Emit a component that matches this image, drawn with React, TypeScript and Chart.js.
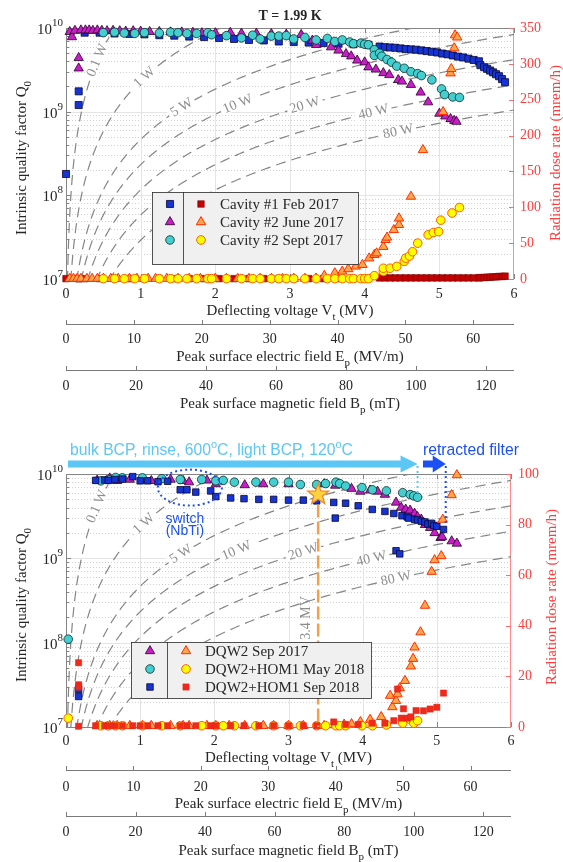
import React, { useEffect, useRef } from 'react';
import { Chart, registerables } from 'chart.js';

Chart.register(...registerables);

const SERIF = '"Liberation Serif", "Times New Roman", Times, serif';
const SANS = '"Liberation Sans", Arial, Helvetica, sans-serif';
const INK = '#262626';
const RED = '#ff3c3c';
const CANVAS_W = 563;

// ---------------- axes ----------------
const V_TICKS = [0, 1, 2, 3, 4, 5, 6];
const EP_TICKS = [0, 10, 20, 30, 40, 50, 60];
const BP_TICKS = [0, 20, 40, 60, 80, 100, 120];
const Q_EXPONENTS = [7, 8, 9, 10];
const V_MAX = 6;
const EP_MAX = 66;
const BP_MAX = 128;
const Q_MIN = 1e7;
const Q_MAX = 1e10;
const TOP_DOSE_TICKS = [0, 50, 100, 150, 200, 250, 300, 350];
const BOTTOM_DOSE_TICKS = [0, 20, 40, 60, 80, 100];

// iso-power reference lines
const POWER_W = [0.1, 1, 5, 10, 20, 40, 80];
const POWER_LABELS = ['0.1 W', '1 W', '5 W', '10 W', '20 W', '40 W', '80 W'];
const POWER_LABEL_V = [0.42, 1.05, 1.55, 2.3, 3.2, 4.12, 4.45];
const R_T_OVER_Q = 430; // ohm

// ---------------- top panel data (T = 1.99 K) ----------------
const TOP_LEGEND = ['Cavity #1 Feb 2017', 'Cavity #2 June 2017', 'Cavity #2 Sept 2017'];

const C1_V = [0.0, 0.17, 0.17, 0.25, 0.45, 0.65, 0.85, 1.05, 1.25, 1.45, 1.65, 1.85, 2.05, 2.25, 2.45, 2.65, 2.85, 3.05, 3.25, 3.45, 3.65, 3.85, 4.05, 4.2, 4.27, 4.34, 4.41, 4.48, 4.55, 4.62, 4.69, 4.76, 4.83, 4.9, 4.97, 5.04, 5.11, 5.18, 5.25, 5.32, 5.39, 5.46, 5.53, 5.55, 5.6, 5.64, 5.68, 5.72, 5.76, 5.8, 5.84, 5.88];
const C1_Q = [1.8e8, 1.75e9, 1.2e9, 8.8e9, 8.8e9, 8.6e9, 8.5e9, 8.4e9, 8.2e9, 8.1e9, 7.9e9, 7.8e9, 7.6e9, 7.4e9, 7.2e9, 7.1e9, 6.9e9, 6.8e9, 6.7e9, 6.6e9, 6.5e9, 6.4e9, 6.3e9, 6.0e9, 5.9e9, 5.85e9, 5.8e9, 5.7e9, 5.6e9, 5.55e9, 5.5e9, 5.4e9, 5.3e9, 5.2e9, 5.1e9, 4.95e9, 4.85e9, 4.7e9, 4.55e9, 4.45e9, 4.3e9, 4.15e9, 4.0e9, 3.6e9, 3.4e9, 3.25e9, 3.1e9, 2.95e9, 2.8e9, 2.65e9, 2.45e9, 2.25e9];
const C1_DOSE = [0.5, 0.5, 0.5, 0.5, 0.5, 0.5, 0.5, 0.5, 0.5, 0.5, 0.5, 0.5, 0.5, 0.5, 0.5, 0.5, 0.5, 0.5, 0.5, 0.5, 0.5, 0.5, 0.5, 1.5, 1.5, 1.5, 1.5, 1.5, 1.5, 1.5, 1.5, 1.5, 1.5, 1.5, 1.5, 1.5, 1.5, 1.5, 1.5, 1.5, 1.5, 1.5, 1.5, 2, 2, 2.5, 2.5, 3, 3, 3.5, 3.5, 4];

const C2_V = [0.05, 0.08, 0.12, 0.17, 0.17, 0.2, 0.26, 0.31, 0.36, 0.42, 0.48, 0.55, 0.63, 0.72, 0.8, 0.9, 1.0, 1.12, 1.25, 1.4, 1.55, 1.7, 1.82, 2.0, 2.2, 2.35, 2.55, 2.75, 2.95, 3.15, 3.3, 3.35, 3.55, 3.65, 3.75, 3.82, 3.9, 4.0, 4.05, 4.15, 4.25, 4.33, 4.45, 4.5, 4.62, 4.75, 4.85, 5.0, 5.08, 5.15, 5.2, 5.23];
const C2_Q = [9.0e9, 7.8e9, 9.3e9, 4.4e9, 3.3e9, 9.4e9, 9.4e9, 9.4e9, 9.3e9, 9.4e9, 9.3e9, 9.2e9, 9.3e9, 9.2e9, 9.1e9, 9.2e9, 9.1e9, 9.0e9, 9.0e9, 8.9e9, 8.9e9, 8.8e9, 8.7e9, 8.7e9, 8.8e9, 8.6e9, 8.6e9, 8.5e9, 8.4e9, 8.3e9, 7.1e9, 6.3e9, 5.9e9, 5.4e9, 4.9e9, 4.6e9, 4.1e9, 3.9e9, 3.4e9, 3.2e9, 2.9e9, 2.75e9, 2.4e9, 2.3e9, 2.1e9, 1.7e9, 1.3e9, 9.5e8, 8.8e8, 8.2e8, 7.8e8, 7.6e8];
const C2_DOSE_V = [0.05, 0.1, 0.15, 0.2, 0.28, 0.35, 0.42, 0.5, 0.6, 0.7, 0.85, 0.95, 1.1, 1.2, 1.35, 1.5, 1.65, 1.8, 2.0, 2.15, 2.3, 2.45, 2.6, 2.75, 2.9, 3.05, 3.2, 3.35, 3.46, 3.6, 3.7, 3.78, 3.88, 3.97, 4.06, 4.13, 4.16, 4.25, 4.28, 4.3, 4.39, 4.46, 4.46, 4.62, 4.78, 5.05, 5.15, 5.16, 5.2, 5.21, 5.24];
const C2_DOSE = [0.5, 0.5, 0.5, 0.5, 0.5, 0.5, 0.5, 0.5, 0.5, 0.5, 0.5, 0.5, 0.5, 0.5, 0.5, 0.5, 0.5, 0.5, 0.5, 0.5, 0.5, 0.5, 0.5, 0.5, 0.5, 0.5, 0.5, 0.8, 4.6, 8.3, 10.6, 13.9, 17.6, 19.9, 29, 33.8, 36, 45, 54.6, 58, 68.5, 75.5, 84.7, 115, 180, 233, 287, 293, 322, 340, 337];

const C3_V = [0.5, 0.65, 0.78, 0.92, 1.05, 1.25, 1.4, 1.5, 1.62, 1.75, 1.9, 1.95, 2.15, 2.35, 2.5, 2.6, 2.75, 2.85, 2.95, 3.05, 3.2, 3.35, 3.5, 3.6, 3.7, 3.8, 3.85, 3.95, 4.0, 4.05, 4.13, 4.13, 4.2, 4.23, 4.3, 4.36, 4.43, 4.53, 4.62, 4.71, 4.76, 4.9, 5.03, 5.07, 5.18, 5.27];
const C3_Q = [8.8e9, 8.9e9, 8.7e9, 8.6e9, 8.8e9, 8.7e9, 8.9e9, 8.8e9, 8.6e9, 8.6e9, 8.8e9, 8.3e9, 8.1e9, 7.6e9, 8.2e9, 7.4e9, 8.0e9, 8.0e9, 8.1e9, 7.4e9, 7.7e9, 7.2e9, 7.5e9, 6.9e9, 7.2e9, 6.8e9, 6.5e9, 6.6e9, 6.4e9, 6.3e9, 5.5e9, 4.7e9, 5.0e9, 4.6e9, 4.2e9, 3.9e9, 3.5e9, 3.3e9, 3.0e9, 2.85e9, 2.7e9, 2.4e9, 1.87e9, 1.6e9, 1.5e9, 1.48e9];
const C3_DOSE_V = [0.5, 0.65, 0.78, 0.92, 1.05, 1.25, 1.4, 1.5, 1.62, 1.75, 1.9, 1.95, 2.15, 2.35, 2.5, 2.6, 2.75, 2.85, 2.95, 3.05, 3.2, 3.35, 3.5, 3.6, 3.7, 3.8, 3.85, 3.95, 4.0, 4.05, 4.13, 4.25, 4.25, 4.34, 4.43, 4.53, 4.55, 4.6, 4.64, 4.71, 4.85, 4.92, 4.99, 5.02, 5.17, 5.27];
const C3_DOSE = [0.5, 0.5, 0.5, 0.5, 0.5, 0.5, 0.5, 0.5, 0.5, 0.5, 0.5, 0.5, 0.5, 0.5, 0.5, 0.5, 0.5, 0.5, 0.5, 0.5, 0.5, 0.5, 0.5, 0.5, 0.5, 0.5, 0.5, 0.5, 0.5, 0.5, 4.6, 10.6, 15, 15, 17.6, 24.5, 29, 32, 38, 50, 61.6, 64.8, 66, 82, 92, 99.6];

// ---------------- bottom panel data ----------------
const BOTTOM_LEGEND = ['DQW2 Sep 2017', 'DQW2+HOM1 May 2018', 'DQW2+HOM1 Sep 2018'];

const B1_V = [0.42, 0.59, 0.69, 0.86, 1.03, 1.15, 1.41, 1.58, 1.66, 1.9, 2.02, 2.41, 2.66, 3.0, 3.48, 3.63, 3.85, 3.97, 4.1, 4.2, 4.3, 4.45, 4.52, 4.58, 4.64, 4.7, 4.74, 4.79, 4.84, 4.91, 4.97, 5.05, 5.07, 5.2, 5.27];
const B1_Q = [8.4e9, 8.9e9, 8.3e9, 8.6e9, 8.5e9, 8.3e9, 8.6e9, 8.3e9, 8.0e9, 8.4e9, 7.6e9, 7.4e9, 7.6e9, 7.6e9, 7.6e9, 7.3e9, 6.7e9, 6.2e9, 6.4e9, 6.2e9, 5.7e9, 4.6e9, 4.0e9, 3.8e9, 3.7e9, 3.4e9, 3.1e9, 2.9e9, 2.5e9, 2.3e9, 2.0e9, 1.75e9, 1.8e9, 1.6e9, 1.5e9];
const B1_DOSE_V = [0.42, 0.59, 0.69, 0.86, 1.03, 1.15, 1.41, 1.58, 1.66, 1.9, 2.02, 2.2, 2.41, 2.66, 2.8, 3.0, 3.2, 3.48, 3.63, 3.75, 3.85, 3.97, 4.1, 4.25, 4.37, 4.4, 4.45, 4.47, 4.5, 4.57, 4.65, 4.68, 4.7, 4.78, 4.84, 4.93, 4.97, 5.06, 5.08, 5.2, 5.27];
const B1_DOSE = [0.5, 0.5, 0.5, 0.5, 0.5, 0.5, 0.5, 0.5, 0.5, 0.5, 0.5, 0.5, 0.5, 0.5, 0.5, 0.5, 0.5, 0.5, 0.8, 1, 1.2, 2, 2.9, 4, 12.4, 7.9, 10.4, 13, 15.4, 18.3, 24, 27, 31.5, 37.5, 48, 61.4, 66, 67.6, 82, 91.7, 99.6];

const B2_V = [0.03, 0.47, 0.57, 0.67, 0.76, 1.03, 1.29, 1.54, 1.83, 2.02, 2.12, 2.27, 2.56, 2.8, 3.0, 3.16, 3.38, 3.5, 3.64, 3.69, 3.77, 3.99, 4.13, 4.32, 4.54, 4.64, 4.69, 4.74];
const B2_Q = [1.1e8, 8.3e9, 8.6e9, 9.1e9, 9.0e9, 9.0e9, 8.8e9, 8.6e9, 8.6e9, 8.3e9, 8.4e9, 8.0e9, 8.0e9, 8.0e9, 8.0e9, 7.5e9, 7.5e9, 7.7e9, 8.0e9, 7.7e9, 7.2e9, 6.9e9, 6.5e9, 6.3e9, 6.0e9, 5.7e9, 5.5e9, 5.3e9];
const B2_DOSE = [3.5, 0.5, 0.5, 0.5, 0.5, 0.5, 0.5, 0.5, 0.5, 0.5, 0.5, 0.5, 0.5, 0.5, 0.5, 0.5, 0.5, 0.5, 0.5, 0.5, 0.5, 0.5, 0.5, 0.8, 1.5, 3, 1.5, 2.5];

const B3_V = [0.17, 0.17, 0.4, 0.52, 0.57, 0.66, 0.76, 0.9, 1.0, 1.1, 1.24, 1.37, 1.54, 1.63, 1.75, 1.95, 2.02, 2.22, 2.4, 2.6, 2.8, 3.0, 3.2, 3.38, 3.61, 3.63, 3.77, 3.94, 4.13, 4.3, 4.42, 4.45, 4.5, 4.53, 4.6, 4.62, 4.7, 4.74, 4.79, 4.84, 4.88, 4.93, 4.96, 5.0, 5.09];
const B3_Q = [2.8e7, 2.3e7, 8.4e9, 8.5e9, 8.4e9, 8.6e9, 8.7e9, 9.3e9, 8.3e9, 8.3e9, 8.1e9, 8.2e9, 6.5e9, 6.5e9, 6.1e9, 6.3e9, 5.4e9, 5.2e9, 5.1e9, 5.0e9, 5.0e9, 4.9e9, 4.9e9, 4.8e9, 4.6e9, 3.0e9, 4.5e9, 4.2e9, 3.8e9, 3.6e9, 3.4e9, 1.23e9, 1.13e9, 3.2e9, 3.1e9, 3.0e9, 2.9e9, 2.85e9, 2.75e9, 2.7e9, 2.55e9, 2.6e9, 2.45e9, 2.4e9, 2.2e9];
const B3_DOSE_V = [0.17, 0.17, 0.17, 0.17, 0.4, 0.52, 0.57, 0.66, 0.76, 0.9, 1.0, 1.1, 1.24, 1.37, 1.54, 1.63, 1.75, 1.95, 2.02, 2.22, 2.4, 2.6, 2.8, 3.0, 3.2, 3.38, 3.61, 3.77, 3.94, 4.13, 4.3, 4.42, 4.47, 4.52, 4.55, 4.6, 4.65, 4.72, 4.82, 4.91, 5.0, 5.09];
const B3_DOSE = [25.4, 16.7, 15.8, 0.3, 0.5, 0.5, 0.5, 0.5, 0.5, 0.5, 0.5, 0.5, 0.5, 0.5, 0.5, 0.5, 0.5, 0.5, 0.5, 0.5, 0.5, 0.5, 0.5, 0.5, 0.5, 0.5, 2, 1, 1, 1.5, 1.5, 2.5, 15, 3.5, 7.2, 3.5, 4, 6.5, 6.4, 7.1, 7.8, 13.4];

// annotation anchors (data units)
const PROCESS_END_V = 4.74;
const PROCESS_END_Q = 5.3e9;
const FILTER_END_V = 5.12;
const FILTER_END_Q = 2.2e9;
const SWITCH_V = 1.67;
const SWITCH_Q = 6.9e9;
const STAR_V = 3.4;
const STAR_Q = 5.7e9;

// ---------------- styles ----------------
const MK: any = {
  blueSq: { shape: 'rect', r: 5, fill: '#1634d6', stroke: '#07072e', lw: 0.8 },
  magTri: { shape: 'triangle', r: 5.4, fill: '#c81ec8', stroke: '#2a002a', lw: 0.8 },
  cyanCirc: { shape: 'circle', r: 4.3, fill: '#43cfcf', stroke: '#0d2b2b', lw: 0.8 },
  darkRedSq: { shape: 'rect', r: 4.6, fill: '#c40000', stroke: '#7a0000', lw: 0.6 },
  orangeTri: { shape: 'triangle', r: 5.4, fill: '#ffa64a', stroke: '#ff2d00', lw: 1 },
  yellowCirc: { shape: 'circle', r: 4.3, fill: '#ffff00', stroke: '#ff5a00', lw: 1 },
  redSq: { shape: 'rect', r: 4.4, fill: '#ef2a1c', stroke: '#e0200f', lw: 0.5 },
  blueSqB: { shape: 'rect', r: 4.6, fill: '#1634d6', stroke: '#07072e', lw: 0.8 },
};

const TOP_LAYOUT = {
  height: 420,
  area: { l: 66, t: 28, r: 514, b: 279 },
  vLabelY: 294, vTitleY: 311, epLineY: 324, epLabelY: 339, epTitleY: 357,
  bpLineY: 370, bpLabelY: 386, bpTitleY: 404,
  yTitle: { x: 22, y: 158 }, rTitle: { x: 556, y: 153 }, rLabelX: 520, yLabelRight: 63,
  legend: { x0: 152, y0: 192, x1: 358, y1: 264, div: 183, qx: 170, dx: 201, tx: 220, rows: [204, 222, 240] },
  title: { text: 'T = 1.99 K', x: 290, y: 16 },
};

const BOTTOM_LAYOUT = {
  height: 442,
  area: { l: 66, t: 54, r: 511, b: 307 },
  vLabelY: 321, vTitleY: 338, epLineY: 350, epLabelY: 367, epTitleY: 384,
  bpLineY: 396, bpLabelY: 412, bpTitleY: 431,
  yTitle: { x: 22, y: 185 }, rTitle: { x: 552, y: 177 }, rLabelX: 518, yLabelRight: 63,
  legend: { x0: 131, y0: 222, x1: 371, y1: 278, div: 167, qx: 150, dx: 186, tx: 205, rows: [231, 249, 267] },
  title: null,
};

// ---------------- helpers ----------------
function powerCurve(p: number) {
  const pts: any[] = [];
  const qTop = Math.min(Q_MAX * 1.05, ((V_MAX + 0.1) * 1e6) ** 2 / (R_T_OVER_Q * p));
  const lo = Math.log10(Q_MIN * 0.95);
  const hi = Math.log10(qTop);
  const n = 180;
  for (let i = 0; i <= n; i++) {
    const q = 10 ** (lo + ((hi - lo) * i) / n);
    pts.push({ x: Math.sqrt(q * R_T_OVER_Q * p) / 1e6, y: q });
  }
  return pts;
}

function markerDataset(xs: number[], ys: number[], m: any, axis: string, order: number) {
  return {
    data: xs.map((x, i) => ({ x, y: ys[i] })),
    yAxisID: axis,
    pointStyle: m.shape,
    pointRadius: m.r,
    pointBackgroundColor: m.fill,
    pointBorderColor: m.stroke,
    pointBorderWidth: m.lw,
    showLine: false,
    clip: false,
    order,
  };
}

function drawMarker(ctx: CanvasRenderingContext2D, m: any, x: number, y: number) {
  ctx.beginPath();
  if (m.shape === 'circle') {
    ctx.arc(x, y, m.r, 0, Math.PI * 2);
  } else if (m.shape === 'rect') {
    const s = m.r * Math.SQRT1_2;
    ctx.rect(x - s, y - s, 2 * s, 2 * s);
  } else {
    const r = m.r;
    let a = 0;
    ctx.moveTo(x + Math.sin(a) * r, y - Math.cos(a) * r);
    a += (2 * Math.PI) / 3;
    ctx.lineTo(x + Math.sin(a) * r, y - Math.cos(a) * r);
    a += (2 * Math.PI) / 3;
    ctx.lineTo(x + Math.sin(a) * r, y - Math.cos(a) * r);
    ctx.closePath();
  }
  ctx.fillStyle = m.fill;
  ctx.fill();
  ctx.lineWidth = m.lw;
  ctx.strokeStyle = m.stroke;
  ctx.stroke();
}

function drawRich(ctx: CanvasRenderingContext2D, parts: any[], x: number, y: number, size: number, align: string, family = SERIF, color = INK) {
  const small = Math.round(size * 0.72);
  let total = 0;
  const widths = parts.map((p) => {
    ctx.font = `${p.sub || p.sup ? small : size}px ${family}`;
    const w = ctx.measureText(p.t).width;
    total += w;
    return w;
  });
  let cx = align === 'center' ? x - total / 2 : align === 'right' ? x - total : x;
  ctx.textBaseline = 'middle';
  ctx.textAlign = 'left';
  ctx.fillStyle = color;
  parts.forEach((p, i) => {
    ctx.font = `${p.sub || p.sup ? small : size}px ${family}`;
    const dy = p.sub ? size * 0.38 : p.sup ? -size * 0.38 : 0;
    ctx.fillText(p.t, cx, y + dy);
    cx += widths[i];
  });
}

function hline(ctx: CanvasRenderingContext2D, x0: number, x1: number, y: number) {
  ctx.beginPath();
  ctx.moveTo(x0, y);
  ctx.lineTo(x1, y);
  ctx.stroke();
}
function vline(ctx: CanvasRenderingContext2D, x: number, y0: number, y1: number) {
  ctx.beginPath();
  ctx.moveTo(x, y0);
  ctx.lineTo(x, y1);
  ctx.stroke();
}

function drawGridAndBox(chart: any) {
  const { ctx, chartArea: a, scales } = chart;
  const xs = scales.x;
  const ys = scales.y;
  const y2 = scales.y2;
  ctx.save();
  ctx.lineWidth = 1;
  ctx.strokeStyle = '#d0d0d0';
  ctx.setLineDash([1, 2]);
  for (const e of [7, 8, 9]) {
    for (let m = 2; m <= 9; m++) {
      const y = Math.round(ys.getPixelForValue(m * 10 ** e)) + 0.5;
      hline(ctx, a.left, a.right, y);
    }
  }
  ctx.setLineDash([]);
  ctx.strokeStyle = '#e4e4e4';
  for (const e of [8, 9]) {
    const y = Math.round(ys.getPixelForValue(10 ** e)) + 0.5;
    hline(ctx, a.left, a.right, y);
  }
  V_TICKS.slice(1, -1).forEach((v) => {
    const x = Math.round(xs.getPixelForValue(v)) + 0.5;
    vline(ctx, x, a.top, a.bottom);
  });
  ctx.strokeStyle = '#858585';
  hline(ctx, a.left, a.right, Math.round(a.top) + 0.5);
  hline(ctx, a.left, a.right, Math.round(a.bottom) + 0.5);
  vline(ctx, Math.round(a.left) + 0.5, a.top, a.bottom + 0.5);
  V_TICKS.forEach((v) => {
    const x = Math.round(xs.getPixelForValue(v)) + 0.5;
    vline(ctx, x, a.bottom, a.bottom - 5);
    vline(ctx, x, a.top, a.top + 5);
  });
  for (const e of [7, 8, 9]) {
    for (let m = 1; m <= 9; m++) {
      const y = Math.round(ys.getPixelForValue(m * 10 ** e)) + 0.5;
      hline(ctx, a.left, a.left + (m === 1 ? 5 : 3), y);
    }
  }
  hline(ctx, a.left, a.left + 5, Math.round(ys.getPixelForValue(1e10)) + 0.5);
  ctx.strokeStyle = '#ff8a8a';
  vline(ctx, Math.round(a.right) - 0.5, a.top, a.bottom + 0.5);
  ctx.strokeStyle = '#ff6a6a';
  const ticks = chart.$panel.doseTicks;
  ticks.forEach((d: number) => {
    const y = Math.round(y2.getPixelForValue(d)) + 0.5;
    hline(ctx, a.right - 5, a.right, y);
  });
  ctx.restore();
}

function drawPowerLabels(chart: any) {
  const { ctx, scales } = chart;
  const xs = scales.x;
  const ys = scales.y;
  ctx.save();
  ctx.font = `14px ${SERIF}`;
  ctx.textAlign = 'center';
  ctx.textBaseline = 'middle';
  POWER_W.forEach((p, i) => {
    const v = POWER_LABEL_V[i];
    const q = (V: number) => (V * 1e6) ** 2 / (R_T_OVER_Q * p);
    const x0 = xs.getPixelForValue(v - 0.02);
    const y0 = ys.getPixelForValue(q(v - 0.02));
    const x1 = xs.getPixelForValue(v + 0.02);
    const y1 = ys.getPixelForValue(q(v + 0.02));
    const cx = xs.getPixelForValue(v);
    const cy = ys.getPixelForValue(q(v));
    const ang = Math.atan2(y1 - y0, x1 - x0);
    ctx.save();
    ctx.translate(cx, cy);
    ctx.rotate(ang);
    const w = ctx.measureText(POWER_LABELS[i]).width;
    ctx.fillStyle = '#ffffff';
    ctx.fillRect(-w / 2 - 3, -5, w + 6, 10);
    ctx.fillStyle = '#8e8e8e';
    ctx.fillText(POWER_LABELS[i], 0, 0);
    ctx.restore();
  });
  ctx.restore();
}

function drawLegend(chart: any) {
  const ctx = chart.ctx;
  const panel = chart.$panel;
  const lg = panel.layout.legend;
  ctx.save();
  ctx.fillStyle = '#f0f0f0';
  ctx.fillRect(lg.x0, lg.y0, lg.x1 - lg.x0, lg.y1 - lg.y0);
  ctx.strokeStyle = '#2a2a2a';
  ctx.lineWidth = 0.8;
  ctx.strokeRect(lg.x0 + 0.5, lg.y0 + 0.5, lg.x1 - lg.x0, lg.y1 - lg.y0);
  vline(ctx, lg.div + 0.5, lg.y0, lg.y1 + 0.5);
  lg.rows.forEach((ry: number, i: number) => {
    drawMarker(ctx, panel.legendQ[i], lg.qx, ry);
    drawMarker(ctx, panel.legendD[i], lg.dx, ry);
    ctx.fillStyle = INK;
    ctx.font = `15px ${SERIF}`;
    ctx.textAlign = 'left';
    ctx.textBaseline = 'middle';
    ctx.fillText(panel.legendLabels[i], lg.tx, ry + 1);
  });
  ctx.restore();
}

function drawAuxAxis(ctx: CanvasRenderingContext2D, scale: any, ticks: number[], lineY: number, labelY: number, a: any) {
  ctx.strokeStyle = '#7a7a7a';
  ctx.lineWidth = 1;
  hline(ctx, a.left, a.right, lineY + 0.5);
  ticks.forEach((t) => {
    const x = Math.round(scale.getPixelForValue(t)) + 0.5;
    vline(ctx, x, lineY + 0.5, lineY - 4);
  });
  ctx.fillStyle = INK;
  ctx.font = `14px ${SERIF}`;
  ctx.textAlign = 'center';
  ctx.textBaseline = 'middle';
  ticks.forEach((t) => ctx.fillText(String(t), scale.getPixelForValue(t), labelY));
}

function drawAxesText(chart: any) {
  const { ctx, chartArea: a, scales } = chart;
  const panel = chart.$panel;
  const L = panel.layout;
  const cxm = (a.left + a.right) / 2;
  ctx.save();
  ctx.fillStyle = INK;
  ctx.font = `14px ${SERIF}`;
  ctx.textAlign = 'center';
  ctx.textBaseline = 'middle';
  V_TICKS.forEach((v) => ctx.fillText(String(v), scales.x.getPixelForValue(v), L.vLabelY));
  drawAuxAxis(ctx, scales.ep, EP_TICKS, L.epLineY, L.epLabelY, a);
  drawAuxAxis(ctx, scales.bp, BP_TICKS, L.bpLineY, L.bpLabelY, a);
  drawRich(ctx, [{ t: 'Deflecting voltage V' }, { t: 't', sub: true }, { t: ' (MV)' }], cxm, L.vTitleY, 15, 'center');
  drawRich(ctx, [{ t: 'Peak surface electric field E' }, { t: 'p', sub: true }, { t: ' (MV/m)' }], cxm, L.epTitleY, 15, 'center');
  drawRich(ctx, [{ t: 'Peak surface magnetic field B' }, { t: 'p', sub: true }, { t: ' (mT)' }], cxm, L.bpTitleY, 15, 'center');
  Q_EXPONENTS.forEach((e) => {
    const y = scales.y.getPixelForValue(10 ** e);
    ctx.fillStyle = INK;
    ctx.font = `11px ${SERIF}`;
    const ew = ctx.measureText(String(e)).width;
    ctx.textAlign = 'left';
    ctx.textBaseline = 'middle';
    ctx.fillText(String(e), L.yLabelRight - ew, y - 5);
    ctx.font = `15px ${SERIF}`;
    ctx.textAlign = 'right';
    ctx.fillText('10', L.yLabelRight - ew, y + 2);
  });
  ctx.fillStyle = RED;
  ctx.font = `14px ${SERIF}`;
  ctx.textAlign = 'left';
  panel.doseTicks.forEach((d: number) => ctx.fillText(String(d), L.rLabelX, scales.y2.getPixelForValue(d)));
  ctx.save();
  ctx.translate(L.yTitle.x, L.yTitle.y);
  ctx.rotate(-Math.PI / 2);
  drawRich(ctx, [{ t: 'Intrinsic quality factor Q' }, { t: '0', sub: true }], 0, 0, 15, 'center');
  ctx.restore();
  ctx.save();
  ctx.translate(L.rTitle.x, L.rTitle.y);
  ctx.rotate(-Math.PI / 2);
  drawRich(ctx, [{ t: 'Radiation dose rate (mrem/h)' }], 0, 0, 15, 'center', SERIF, RED);
  ctx.restore();
  if (L.title) {
    ctx.fillStyle = INK;
    ctx.font = `bold 14px ${SERIF}`;
    ctx.textAlign = 'center';
    ctx.fillText(L.title.text, L.title.x, L.title.y);
  }
  ctx.restore();
}

function drawArrow(ctx: CanvasRenderingContext2D, x0: number, tip: number, y: number, shaft: number, headLen: number, headH: number, color: string) {
  ctx.fillStyle = color;
  ctx.fillRect(x0, y - shaft / 2, tip - headLen - x0 + 1, shaft);
  ctx.beginPath();
  ctx.moveTo(tip - headLen, y - headH / 2);
  ctx.lineTo(tip, y);
  ctx.lineTo(tip - headLen, y + headH / 2);
  ctx.closePath();
  ctx.fill();
}

function annotateBottom(chart: any) {
  const { ctx, chartArea: a, scales } = chart;
  const xs = scales.x;
  const ys = scales.y;
  const LIGHT = '#5cc6f5';
  const BLUE = '#1c50f5';
  ctx.save();
  const sx = xs.getPixelForValue(STAR_V);
  const sy = ys.getPixelForValue(STAR_Q);
  ctx.strokeStyle = '#f3a04c';
  ctx.lineWidth = 2.5;
  ctx.setLineDash([13, 4]);
  vline(ctx, sx, sy + 10, a.bottom);
  ctx.setLineDash([]);
  ctx.beginPath();
  for (let i = 0; i < 10; i++) {
    const r = i % 2 === 0 ? 11 : 4.6;
    const ang = -Math.PI / 2 + (i * Math.PI) / 5;
    const px = sx + Math.cos(ang) * r;
    const py = sy + Math.sin(ang) * r;
    if (i === 0) ctx.moveTo(px, py);
    else ctx.lineTo(px, py);
  }
  ctx.closePath();
  ctx.fillStyle = '#ffd23f';
  ctx.fill();
  ctx.strokeStyle = '#f0882a';
  ctx.lineWidth = 1.3;
  ctx.stroke();
  ctx.save();
  ctx.translate(sx - 12, 198);
  ctx.rotate(-Math.PI / 2);
  ctx.fillStyle = '#8c8c8c';
  ctx.font = `14px ${SERIF}`;
  ctx.textAlign = 'center';
  ctx.textBaseline = 'middle';
  ctx.fillText('3.4 MV', 0, 0);
  ctx.restore();
  const pTip = xs.getPixelForValue(PROCESS_END_V);
  const fTip = xs.getPixelForValue(FILTER_END_V);
  drawArrow(ctx, 68, pTip, 44, 7, 17, 17, LIGHT);
  drawArrow(ctx, 423, fTip, 44, 7, 13, 17, BLUE);
  drawRich(ctx, [{ t: 'bulk BCP, rinse, 600' }, { t: 'o', sup: true }, { t: 'C, light BCP, 120' }, { t: 'o', sup: true }, { t: 'C' }], 70, 31, 15.7, 'left', SANS, LIGHT);
  drawRich(ctx, [{ t: 'retracted filter' }], 423, 31, 15.7, 'left', SANS, BLUE);
  ctx.lineWidth = 2;
  ctx.setLineDash([2, 3]);
  ctx.strokeStyle = LIGHT;
  vline(ctx, pTip, 46, ys.getPixelForValue(PROCESS_END_Q) - 4);
  ctx.strokeStyle = BLUE;
  vline(ctx, fTip, 46, ys.getPixelForValue(FILTER_END_Q) - 4);
  ctx.beginPath();
  ctx.ellipse(xs.getPixelForValue(SWITCH_V), ys.getPixelForValue(SWITCH_Q), 32, 18, 0, 0, Math.PI * 2);
  ctx.stroke();
  ctx.setLineDash([]);
  ctx.fillStyle = BLUE;
  ctx.font = `14px ${SANS}`;
  ctx.textAlign = 'center';
  ctx.textBaseline = 'middle';
  const swx = xs.getPixelForValue(SWITCH_V) - 5;
  ctx.fillText('switch', swx, 99);
  ctx.fillText('(NbTi)', swx, 111);
  ctx.restore();
}

const panelPlugin = {
  id: 'panelDecor',
  beforeDraw(chart: any) {
    const ctx = chart.ctx;
    ctx.save();
    ctx.fillStyle = '#ffffff';
    ctx.fillRect(0, 0, chart.width, chart.height);
    ctx.restore();
  },
  beforeDatasetsDraw(chart: any) {
    drawGridAndBox(chart);
  },
  afterDatasetDraw(chart: any, args: any) {
    if (args.index === 0) drawPowerLabels(chart);
  },
  afterDatasetsDraw(chart: any) {
    if (chart.$panel.annotate) chart.$panel.annotate(chart);
    drawLegend(chart);
  },
  afterDraw(chart: any) {
    drawAxesText(chart);
  },
};

function buildPanel(which: 'top' | 'bottom') {
  if (which === 'top') {
    return {
      layout: TOP_LAYOUT,
      doseMax: 350,
      doseTicks: TOP_DOSE_TICKS,
      legendLabels: TOP_LEGEND,
      legendQ: [MK.blueSq, MK.magTri, MK.cyanCirc],
      legendD: [MK.darkRedSq, MK.orangeTri, MK.yellowCirc],
      annotate: null,
      markers: [
        markerDataset(C3_DOSE_V, C3_DOSE, MK.yellowCirc, 'y2', 1),
        markerDataset(C2_DOSE_V, C2_DOSE, MK.orangeTri, 'y2', 2),
        markerDataset(C1_V, C1_DOSE, MK.darkRedSq, 'y2', 3),
        markerDataset(C3_V, C3_Q, MK.cyanCirc, 'y', 4),
        markerDataset(C2_V, C2_Q, MK.magTri, 'y', 5),
        markerDataset(C1_V, C1_Q, MK.blueSq, 'y', 6),
      ],
    };
  }
  return {
    layout: BOTTOM_LAYOUT,
    doseMax: 100,
    doseTicks: BOTTOM_DOSE_TICKS,
    legendLabels: BOTTOM_LEGEND,
    legendQ: [MK.magTri, MK.cyanCirc, MK.blueSqB],
    legendD: [MK.orangeTri, MK.yellowCirc, MK.redSq],
    annotate: annotateBottom,
    markers: [
      markerDataset(B3_DOSE_V, B3_DOSE, MK.redSq, 'y2', 1),
      markerDataset(B2_V, B2_DOSE, MK.yellowCirc, 'y2', 2),
      markerDataset(B1_DOSE_V, B1_DOSE, MK.orangeTri, 'y2', 3),
      markerDataset(B3_V, B3_Q, MK.blueSqB, 'y', 4),
      markerDataset(B2_V, B2_Q, MK.cyanCirc, 'y', 5),
      markerDataset(B1_V, B1_Q, MK.magTri, 'y', 6),
    ],
  };
}

function makeChart(canvas: HTMLCanvasElement, which: 'top' | 'bottom') {
  const panel: any = buildPanel(which);
  const L = panel.layout;
  const powerSets = POWER_W.map((p) => ({
    data: powerCurve(p),
    yAxisID: 'y',
    showLine: true,
    pointRadius: 0,
    borderColor: '#858585',
    borderWidth: 1.2,
    borderDash: [10, 6],
    fill: false,
    tension: 0,
    order: 10,
  }));
  const chart: any = new Chart(canvas, {
    type: 'scatter',
    data: { datasets: [...powerSets, ...panel.markers] as any },
    options: {
      responsive: false,
      animation: false,
      devicePixelRatio: 1,
      events: [],
      layout: {
        padding: { left: L.area.l, top: L.area.t, right: CANVAS_W - L.area.r, bottom: L.height - L.area.b },
      },
      plugins: { legend: { display: false }, tooltip: { enabled: false }, title: { display: false } },
      scales: {
        x: { type: 'linear', min: 0, max: V_MAX, display: false },
        ep: { type: 'linear', axis: 'x', position: 'bottom', min: 0, max: EP_MAX, display: false },
        bp: { type: 'linear', axis: 'x', position: 'bottom', min: 0, max: BP_MAX, display: false },
        y: { type: 'logarithmic', min: Q_MIN, max: Q_MAX, display: false },
        y2: { type: 'linear', position: 'right', min: 0, max: panel.doseMax, display: false },
      },
    } as any,
    plugins: [
      {
        id: 'panelRef',
        beforeInit(c: any) {
          c.$panel = panel;
        },
      },
      panelPlugin,
    ],
  });
  return chart;
}

export default function App() {
  const topRef = useRef<HTMLCanvasElement>(null);
  const botRef = useRef<HTMLCanvasElement>(null);
  useEffect(() => {
    const charts = [makeChart(topRef.current!, 'top'), makeChart(botRef.current!, 'bottom')];
    return () => charts.forEach((c) => c.destroy());
  }, []);
  return (
    <div style={{ position: 'absolute', left: 0, top: 0, width: 563, height: 862, background: '#ffffff' }}>
      <canvas ref={topRef} width={563} height={420} style={{ position: 'absolute', left: 0, top: 0, width: 563, height: 420 }} />
      <canvas ref={botRef} width={563} height={442} style={{ position: 'absolute', left: 0, top: 420, width: 563, height: 442 }} />
    </div>
  );
}
